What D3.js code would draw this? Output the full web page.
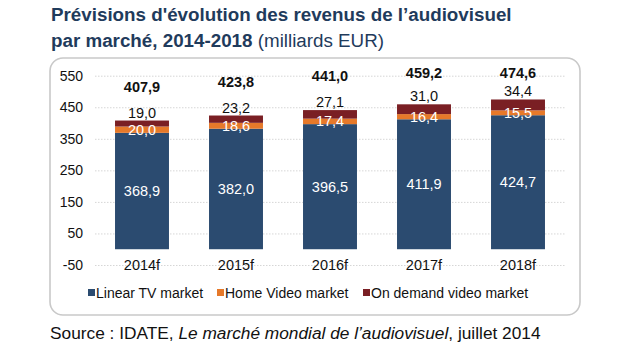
<!DOCTYPE html>
<html><head><meta charset="utf-8">
<script src="https://cdn.jsdelivr.net/npm/d3@7"></script>
<style>body{margin:0;background:#fff;} svg{display:block;font-family:"Liberation Sans",Arial,sans-serif;}</style>
</head><body><svg id="c" width="620" height="350"></svg>
<script>
const categories = ["2014f","2015f","2016f","2017f","2018f"];
const linearTV = [368.9, 382.0, 396.5, 411.9, 424.7];
const homeVideo = [20.0, 18.6, 17.4, 16.4, 15.5];
const onDemand = [19.0, 23.2, 27.1, 31.0, 34.4];
const totals = [407.9, 423.8, 441.0, 459.2, 474.6];
const yTicks = [550, 450, 350, 250, 150, 50, -50];
const seriesNames = ["Linear TV market", "Home Video market", "On demand video market"];
const colors = ["#2b4b70", "#e6792a", "#7a1f24"];

const fmt = v => v.toFixed(1).replace(".", ",");
const svg = d3.select("#c");

// title
svg.append("text").attr("x", 51).attr("y", 21).attr("fill", "#1f3b5c")
  .style("font-size", "18.8px").style("font-weight", "bold")
  .text("Prévisions d'évolution des revenus de l’audiovisuel");
const t2 = svg.append("text").attr("x", 51).attr("y", 47).attr("fill", "#1f3b5c").style("font-size", "18.8px");
t2.append("tspan").style("font-weight", "bold").text("par marché, 2014-2018 ");
t2.append("tspan").text("(milliards EUR)");

// box
svg.append("rect").attr("x", 50).attr("y", 58).attr("width", 530).attr("height", 257)
  .attr("rx", 13).attr("fill", "#fff").attr("stroke", "#c9c9c9").attr("stroke-width", 1.6);

const x = d3.scaleBand().domain(categories).range([95, 565]).paddingInner(0.426).paddingOuter(0.213);
const y = d3.scaleLinear().domain([-50, 550]).range([265, 75.7]);

// grid
const yAxis = d3.axisLeft(y).tickValues(yTicks).tickSize(-(565 - 95)).tickFormat(d => String(d));
const ga = svg.append("g").attr("transform", "translate(95,0)").call(yAxis);
ga.select(".domain").remove();
ga.selectAll(".tick line").attr("stroke", "#d6d6d6").attr("stroke-dasharray", "1.5,1.5");
ga.selectAll(".tick text").attr("x", -12).attr("fill", "#111").style("font-size", "14px")
  .style("font-family", "'Liberation Sans',Arial,sans-serif");

// stacked bars
const rows = categories.map((c, i) => ({cat: c, lin: linearTV[i], home: homeVideo[i], od: onDemand[i], tot: totals[i]}));
const stack = d3.stack().keys(["lin", "home", "od"])(rows);
stack.forEach((layer, li) => {
  svg.append("g").selectAll("rect").data(layer).join("rect")
    .attr("x", d => x(d.data.cat)).attr("width", x.bandwidth())
    .attr("y", d => y(d[1])).attr("height", d => y(d[0]) - y(d[1]))
    .attr("fill", colors[li]);
});

// x labels
svg.append("g").selectAll("text").data(categories).join("text")
  .attr("x", d => x(d) + x.bandwidth() / 2).attr("y", y(-50) + 5)
  .attr("text-anchor", "middle").style("font-size", "14.5px").attr("fill", "#111").text(d => d);

const cx = d => x(d.cat) + x.bandwidth() / 2;
// linear labels
svg.append("g").selectAll("text").data(rows).join("text")
  .attr("x", cx).attr("y", d => y(d.lin / 2) + 5).attr("text-anchor", "middle")
  .attr("fill", "#fff").style("font-size", "14.5px").text(d => fmt(d.lin));
// home labels
svg.append("g").selectAll("text").data(rows).join("text")
  .attr("x", cx).attr("y", d => y(d.lin + d.home / 2) + 5).attr("text-anchor", "middle")
  .attr("fill", "#fff").style("font-size", "14.5px").text(d => fmt(d.home));
// on demand labels
svg.append("g").selectAll("text").data(rows).join("text")
  .attr("x", cx).attr("y", d => y(d.tot) - 3).attr("text-anchor", "middle")
  .attr("fill", "#111").style("font-size", "14.5px").text(d => fmt(d.od));
// totals
svg.append("g").selectAll("text").data(rows).join("text")
  .attr("x", cx).attr("y", d => Math.max(y(d.tot) - 29, 78)).attr("text-anchor", "middle")
  .attr("fill", "#111").style("font-size", "14.5px").style("font-weight", "bold").text(d => fmt(d.tot));

// legend
const legX = [88, 217, 363];
const lg = svg.append("g").selectAll("g").data(seriesNames).join("g")
  .attr("transform", (d, i) => `translate(${legX[i]},0)`);
lg.append("rect").attr("x", 0).attr("y", 289).attr("width", 7).attr("height", 7).attr("fill", (d, i) => colors[i]);
lg.append("text").attr("x", 8).attr("y", 298).style("font-size", "14px").attr("fill", "#111").text(d => d);

// source
const s = svg.append("text").attr("x", 50).attr("y", 339).style("font-size", "17.3px").attr("fill", "#111");
s.append("tspan").text("Source : IDATE, ");
s.append("tspan").style("font-style", "italic").text("Le marché mondial de l’audiovisuel");
s.append("tspan").text(", juillet 2014");
</script></body></html>
